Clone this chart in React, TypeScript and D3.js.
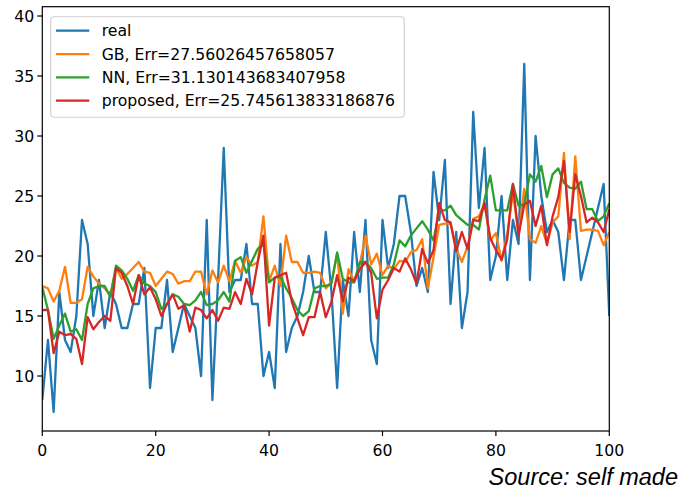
import React from "react";
import * as d3 from "d3";

const xs = d3.range(0, 101);

const realVals = [
  8, 13, 7, 17, 13, 12, 15, 23, 21, 15, 18, 14, 17, 16, 14, 14, 16, 16, 19, 9,
  14, 14, 18, 12, 14, 16, 15, 14, 10, 23, 8, 18, 29, 17, 18, 18, 21, 16, 16, 10,
  12, 9, 21, 12, 14, 15, 17, 20, 17, 17, 22, 17, 9, 18, 15, 22, 17, 23, 13, 11,
  23, 19, 21, 25, 25, 22, 17.5, 19, 17, 27, 23, 28, 16, 22, 14, 17, 32, 24, 29, 18,
  20, 25, 18, 23, 21, 36, 18, 30, 25, 22, 23, 22, 18, 23, 23, 18, 20, 22, 24, 26,
  15,
];

const gbVals = [
  17.5, 17.3, 16.2, 17.1, 19.1, 16.1, 16.1, 16.4, 19.1, 18.3, 17.7, 17.3, 16.7, 19, 18.1, 18.5, 19, 19.5, 18.7, 18.6,
  17.5, 18.1, 18.7, 18.5, 17.7, 17.9, 17.9, 18.7, 18.7, 16.8, 18.8, 17.8, 19.2, 17.9, 19.6, 18.6, 19.9, 19.2, 19.5, 23.3,
  17.9, 19.2, 17.5, 21.7, 19.5, 19.5, 18.6, 18.6, 18.7, 18.6, 17.3, 17.8, 20.2, 15.2, 18.9, 17.9, 19.3, 21.7, 19.3, 20.2,
  18.4, 19.2, 18.9, 19.6, 19.5, 20.3, 20.5, 21.4, 17.3, 19.9, 22.6, 22.7, 22.7, 20.6, 19.5, 20.8, 23.1, 23.3, 24.4, 21.3,
  21.9, 19.6, 21.8, 25.3, 21.8, 25.6, 21.4, 21.1, 22.5, 21, 22.8, 23.3, 28.6, 21.4, 28.3, 22.1, 22.2, 22.2, 22.1, 20.9,
  22,
];

const nnVals = [
  17.4, 15.5, 13.1, 14.2, 15.2, 13.7, 13.9, 13, 16, 17.3, 17.5, 17.5, 16.6, 19.2, 18.8, 18.1, 17.1, 18.4, 17.7, 17.5,
  17, 15.6, 16, 16.8, 16.6, 16, 15.9, 16.3, 17, 15.9, 16, 16.3, 17, 16.2, 19.6, 19.9, 18.6, 19.6, 20.6, 21,
  17.8, 18.2, 18.3, 17.3, 16.5, 15.5, 15, 15.4, 17.3, 17.5, 17.5, 17.7, 20.3, 18.1, 17.8, 17.8, 19.5, 19.5, 19, 18.1,
  18.2, 18.2, 19.3, 21.3, 20.8, 21.7, 22.3, 22.9, 22.2, 21.3, 23.8, 23.8, 24.2, 23.4, 23, 22.6, 22.6, 22.2, 24.7, 26.7,
  23.8, 23.8, 23.8, 26, 24.2, 24.3, 26.8, 26.2, 27.5, 24.9, 26.8, 27.3, 26.1, 25.7, 25.6, 26.2, 23.9, 23.9, 22.9, 23.3,
  24.4,
];

const proposedVals = [
  15.5, 15.5, 11.9, 13.7, 13.4, 13.5, 13.1, 11, 14.9, 13.9, 14.5, 15, 14.6, 19, 18.6, 17.5, 16, 18.4, 16.8, 17.4,
  16.4, 15, 16, 16.8, 15.6, 15.9, 13.7, 15.7, 15.5, 14.8, 15.5, 14.6, 15.7, 15.6, 17, 16, 18.1, 16.8, 19.5, 21.7,
  14.2, 18.2, 18.4, 18.6, 16.2, 14.8, 13.4, 14.9, 14.9, 17, 14.9, 16.2, 18.4, 16.2, 18.2, 17.9, 18.9, 19.5, 18.6, 14.8,
  17.2, 18, 19, 18.7, 19.8, 18.9, 17.7, 20.6, 19.4, 20.5, 24.4, 23, 22.8, 20.4, 22, 20.6, 23, 22.9, 24.4, 21.5,
  20.5, 19.7, 21.4, 26, 21.7, 24.3, 24.6, 22.5, 24.2, 20.9, 23.3, 24.9, 27.9, 22, 26.8, 25, 22.8, 23.2, 22.8, 22,
  23.9,
];

const seriesNames = [
  "real",
  "GB, Err=27.56026457658057",
  "NN, Err=31.130143683407958",
  "proposed, Err=25.745613833186876",
];
const seriesColors = ["#1f77b4", "#ff7f0e", "#2ca02c", "#d62728"];
const seriesData = [realVals, gbVals, nnVals, proposedVals];

const xTicks = [0, 20, 40, 60, 80, 100];
const yTicks = [10, 15, 20, 25, 30, 35, 40];

const W = 680;
const H = 489;
const left = 42.3;
const right = 609.3;
const top = 6.7;
const bottom = 431;

export default function App() {
  const x = d3.scaleLinear().domain([0, 100]).range([left, right]);
  const y = d3.scaleLinear().domain([10, 40]).range([376, 16]);
  const line = d3
    .line<number>()
    .x((_, i) => x(xs[i]))
    .y((d) => y(d));

  const font = "'DejaVu Sans', sans-serif";
  const fs = 15.7;

  return (
    <svg
      width={W}
      height={H}
      style={{ position: "absolute", left: 0, top: 0, background: "#fff" }}
    >
      <defs>
        <clipPath id="plotclip">
          <rect x={left} y={top} width={right - left} height={bottom - top} />
        </clipPath>
      </defs>
      <rect x={0} y={0} width={W} height={H} fill="#fff" />
      <g clipPath="url(#plotclip)">
        {seriesData.map((vals, k) => (
          <path
            key={k}
            d={line(vals) || ""}
            fill="none"
            stroke={seriesColors[k]}
            strokeWidth={2.3}
            strokeLinejoin="round"
          />
        ))}
      </g>
      <rect
        x={left}
        y={top}
        width={right - left}
        height={bottom - top}
        fill="none"
        stroke="#000"
        strokeWidth={1.2}
      />
      {xTicks.map((t) => (
        <g key={"x" + t}>
          <line x1={x(t)} x2={x(t)} y1={bottom} y2={bottom + 5} stroke="#000" strokeWidth={1.2} />
          <text
            x={x(t)}
            y={bottom + 24.5}
            textAnchor="middle"
            fontFamily={font}
            fontSize={fs}
            fill="#000"
          >
            {t}
          </text>
        </g>
      ))}
      {yTicks.map((t) => (
        <g key={"y" + t}>
          <line x1={left - 5} x2={left} y1={y(t)} y2={y(t)} stroke="#000" strokeWidth={1.2} />
          <text
            x={left - 8}
            y={y(t) + 5.7}
            textAnchor="end"
            fontFamily={font}
            fontSize={fs}
            fill="#000"
          >
            {t}
          </text>
        </g>
      ))}
      <rect
        x={50.7}
        y={16.7}
        width={353.6}
        height={100.6}
        rx={3.5}
        fill="#fff"
        fillOpacity={0.8}
        stroke="#d0d0d0"
        strokeWidth={1.1}
      />
      {seriesNames.map((name, k) => {
        const cy = 30.7 + k * 23.33;
        return (
          <g key={name}>
            <line x1={56} x2={89.3} y1={cy} y2={cy} stroke={seriesColors[k]} strokeWidth={2.3} />
            <text x={101.7} y={cy + 5.7} fontFamily={font} fontSize={fs} fill="#000">
              {name}
            </text>
          </g>
        );
      })}
      <text
        x={678}
        y={485.3}
        textAnchor="end"
        fontFamily="'Liberation Sans', Arial, sans-serif"
        fontStyle="italic"
        fontSize={23.5}
        fill="#000"
      >
        Source: self made
      </text>
    </svg>
  );
}
